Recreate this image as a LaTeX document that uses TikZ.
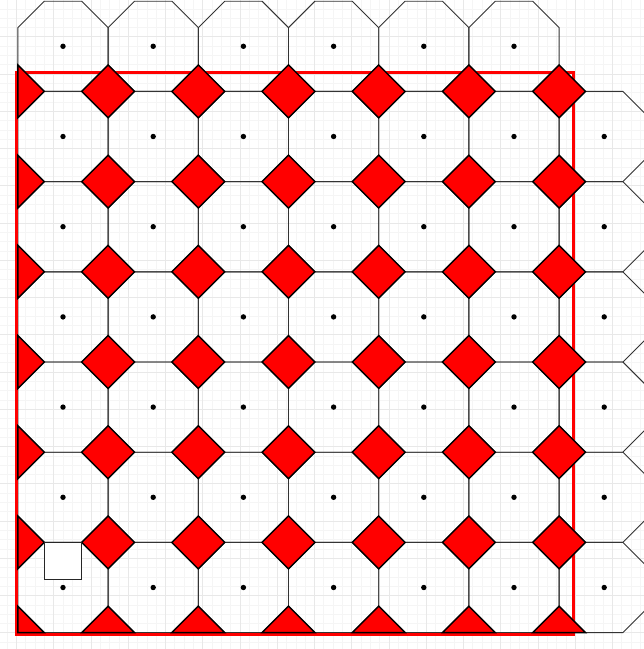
\documentclass[tikz,border=0pt]{standalone}
\begin{document}
\begin{tikzpicture}[x=1pt,y=-1pt,
  minorgrid/.style={draw=black!4, line width=0.5pt},
  majorgrid/.style={draw=black!9, line width=0.6pt},
  octa/.style={draw=black!80, line width=0.9pt},
  dia/.style={draw=black, fill=red, line width=1.4pt, line join=miter},
  frame/.style={draw=red, line width=3pt},
  centerdot/.style={fill=black},
  sqbox/.style={draw=black!85, fill=white, line width=1.3pt}]
\useasboundingbox (0,0) rectangle (644,649);
\fill[white] (0,0) rectangle (644,649);
\def\sx{90.2}
\def\ox{63}
\def\oy{46.3}
\def\h{45.1}
\def\a{18.68}
\def\d{26.42}
% background grid
\foreach \k in {-1,...,69}{
  \draw[minorgrid] ({16.4+9.3125*\k},0) -- ({16.4+9.3125*\k},649);
  \draw[minorgrid] (0,{-0.55+9.3125*\k}) -- (644,{-0.55+9.3125*\k});
}
\foreach \k in {-1,...,17}{
  \draw[majorgrid] ({16.4+37.25*\k},0) -- ({16.4+37.25*\k},649);
  \draw[majorgrid] (0,{-0.55+37.25*\k}) -- (644,{-0.55+37.25*\k});
}
% octagons
\foreach \j in {0,...,6}{
  \foreach \i in {0,...,6}{
    \pgfmathtruncatemacro{\skip}{(\i==6)&&(\j==0)}
    \ifnum\skip=0
      \draw[octa, shift={({\ox+\sx*\i},{\oy+\sx*\j})}]
        (-\h,-\a) -- (-\h,\a) -- (-\a,\h) -- (\a,\h) -- (\h,\a) -- (\h,-\a) -- (\a,-\h) -- (-\a,-\h) -- cycle;
    \fi
  }
}
% red frame
\draw[frame] (16,72) rectangle (573.5,634);
% full diamonds
\foreach \k in {0,...,5}{
  \foreach \m in {0,...,5}{
    \draw[dia, shift={({\ox+\h+\sx*\k},{\oy+\h+\sx*\m})}]
      (0,-\d) -- (\d,0) -- (0,\d) -- (-\d,0) -- cycle;
  }
}
% left half diamonds
\foreach \m in {0,...,5}{
  \draw[dia, shift={({\ox-\h},{\oy+\h+\sx*\m})}]
    (0,-\d) -- (\d,0) -- (0,\d) -- cycle;
}
% bottom half diamonds
\foreach \k in {0,...,5}{
  \draw[dia, shift={({\ox+\h+\sx*\k},{\oy+\h+\sx*6})}]
    (-\d,0) -- (0,-\d) -- (\d,0) -- cycle;
}
% corner quarter
\draw[dia, shift={({\ox-\h},{\oy+\h+\sx*6})}] (0,0) -- (0,-\d) -- (\d,0) -- cycle;
% center dots
\foreach \j in {0,...,6}{
  \foreach \i in {0,...,6}{
    \pgfmathtruncatemacro{\skip}{(\i==6)&&(\j==0)}
    \ifnum\skip=0
      \fill[centerdot] ({\ox+\sx*\i},{\oy+\sx*\j}) circle (2.7);
    \fi
  }
}
% small square
\draw[sqbox] ({\ox-\a},{\oy+\sx*5+\h}) rectangle ({\ox+\a},{\oy+\sx*5+\h+37.36});
\end{tikzpicture}
\end{document}
